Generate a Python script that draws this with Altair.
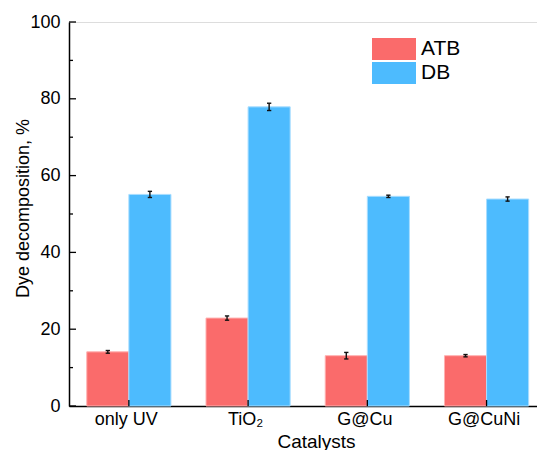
import json
import altair as alt
import pandas as pd

categories = ["only UV", "TiO₂", "G@Cu", "G@CuNi"]
series = ["ATB", "DB"]
atb_values = [14.1, 22.9, 13.1, 13.1]
atb_errors = [0.35, 0.55, 0.85, 0.3]
db_values = [55.1, 77.9, 54.6, 53.9]
db_errors = [0.8, 0.95, 0.3, 0.55]
y_major = [0, 20, 40, 60, 80, 100]
y_minor = [10, 30, 50, 70, 90]

rows = []
for i, c in enumerate(categories):
    rows.append(dict(cat=c, idx=i, series="ATB", value=atb_values[i], err=atb_errors[i]))
    rows.append(dict(cat=c, idx=i, series="DB", value=db_values[i], err=db_errors[i]))
df = pd.DataFrame(rows)

W, H = 468, 384
BW = 0.353
CAP = 0.018
FONT = "Liberation Sans"
RED, BLUE = "#FA6B6B", "#4DBBFE"
RED_EDGE, BLUE_EDGE = "#FFB0B0", "#A8DDFF"

xscale = alt.Scale(domain=[-0.502, 3.423], nice=False, zero=False)
yscale = alt.Scale(domain=[0, 100], nice=False)

label_expr = json.dumps(categories) + "[datum.value]"

base = alt.Chart(df).transform_calculate(
    x0=f"datum.idx + (datum.series == 'ATB' ? {-BW} : 0)",
    base="0",
).transform_calculate(
    x1=f"datum.x0 + {BW}",
    xc=f"datum.x0 + {BW / 2}",
    lo="datum.value - datum.err",
    hi="datum.value + datum.err",
).transform_calculate(
    cl=f"datum.xc - {CAP}",
    cr=f"datum.xc + {CAP}",
)

bars = base.mark_rect(strokeWidth=1).encode(
    x=alt.X("x0:Q", scale=xscale,
            axis=alt.Axis(values=[0, 1, 2, 3], labelExpr=label_expr, title="Catalysts",
                          grid=False, ticks=False, labelFontSize=18, labelPadding=4,
                          labelOffset=-3,
                          titleFontSize=19, titlePadding=4, titleFontWeight="normal", titleX=247,
                          domainColor="black", domainWidth=1.5, labelColor="black",
                          titleColor="black", labelFont=FONT, titleFont=FONT)),
    x2="x1:Q",
    y=alt.Y("value:Q", scale=yscale,
            axis=alt.Axis(values=y_major, title="Dye decomposition, %", grid=False, ticks=False,
                          labelFontSize=18, labelPadding=9, titleFontSize=18, titlePadding=-3,
                          titleY=186,
                          titleFontWeight="normal", domainColor="black", domainWidth=1.5,
                          labelColor="black", titleColor="black", labelFont=FONT, titleFont=FONT)),
    y2="base:Q",
    color=alt.Color("series:N", scale=alt.Scale(domain=series, range=[RED, BLUE]),
                    legend=alt.Legend(title=None, orient="none", legendX=314, legendY=16,
                                      symbolType="M-2,-1H2V1H-2Z", symbolSize=484,
                                      symbolStrokeWidth=0, symbolOpacity=1,
                                      labelFontSize=21, labelFont=FONT, labelColor="black",
                                      labelOffset=16, rowPadding=2, padding=0)),
    stroke=alt.Stroke("series:N", scale=alt.Scale(domain=series, range=[RED_EDGE, BLUE_EDGE]),
                      legend=None),
)

err_v = base.mark_rule(color="#111111", strokeWidth=1.4).encode(
    x="xc:Q", y="lo:Q", y2="hi:Q")
cap_hi = base.mark_rule(color="#111111", strokeWidth=1.4).encode(
    x="cl:Q", x2="cr:Q", y="hi:Q")
cap_lo = base.mark_rule(color="#111111", strokeWidth=1.4).encode(
    x="cl:Q", x2="cr:Q", y="lo:Q")

major_ticks = alt.Chart(pd.DataFrame({"v": y_major})).mark_rule(color="black", strokeWidth=1.3).encode(
    y=alt.Y("v:Q", scale=yscale), x=alt.value(0), x2=alt.value(7))
minor_ticks = alt.Chart(pd.DataFrame({"v": y_minor})).mark_rule(color="black", strokeWidth=1.3).encode(
    y=alt.Y("v:Q", scale=yscale), x=alt.value(0), x2=alt.value(4))
x_ticks = alt.Chart(pd.DataFrame({"i": list(range(len(categories)))})).mark_rule(
    color="black", strokeWidth=1.3).encode(
    x=alt.X("i:Q", scale=xscale), y=alt.value(H), y2=alt.value(H - 6))

chart = alt.layer(bars, err_v, cap_hi, cap_lo, major_ticks, minor_ticks, x_ticks).properties(
    width=W, height=H,
    autosize=alt.AutoSizeParams(type="none"),
    padding={"left": 69, "top": 22, "right": 0, "bottom": 44},
).configure_view(stroke=None).configure(font=FONT)

chart.save("out.html", embed_options={"renderer": "svg", "actions": False})
